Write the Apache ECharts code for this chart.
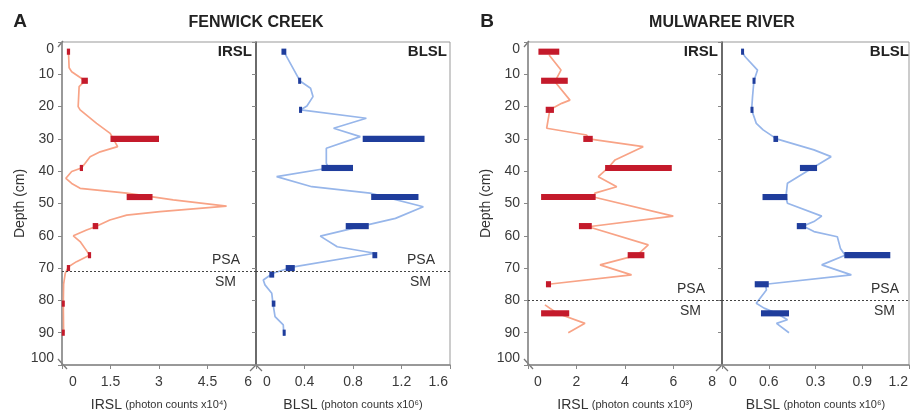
<!DOCTYPE html>
<html>
<head>
<meta charset="utf-8">
<script src="https://cdn.jsdelivr.net/npm/echarts@6/dist/echarts.min.js"></script>
<style>
  html, body { margin: 0; padding: 0; background: #fff; }
  #main { width: 911px; height: 417px; }
</style>
</head>
<body>
<div id="main"></div>
<script>
// Fenwick Creek profiles (depth in cm, signal values)
var fenIrslDepth = [3, 8, 9.2, 12, 13.8, 20, 21, 25.2, 28.3, 32.4, 34, 35.5, 37.6, 39, 40.1, 42.2, 43.8, 45.3, 46.8, 48.9, 50.8, 52.5, 53.6, 55.1, 57.2, 58.2, 60, 61.8, 64.9, 66, 68, 69.6, 71.6, 75, 81, 90];
var fenIrslValue = [0.2, 0.22, 0.3, 0.71, 0.53, 0.5, 0.56, 1.07, 1.49, 1.72, 1.18, 0.87, 0.71, 0.6, 0.3, 0.12, 0.3, 0.56, 2.0, 3.44, 5.09, 3.03, 2.0, 1.48, 1.03, 0.76, 0.35, 0.56, 0.78, 0.85, 0.45, 0.2, 0.1, 0.05, 0.04, 0.05];
var fenIrslBars = [[3, 0.15, 0.25], [12, 0.6, 0.8], [30, 1.5, 3.0], [39, 0.55, 0.65], [48, 2.0, 2.8], [57, 0.95, 1.12], [66, 0.8, 0.9], [70, 0.15, 0.25], [81, 0.0, 0.08], [90, 0.0, 0.08]];

var fenBlslDepth = [3, 11.2, 12, 14.3, 16.9, 19.8, 21, 23.6, 26.7, 29.3, 32.9, 37.6, 39, 41.7, 44.8, 46.8, 51, 54.6, 56.7, 60.1, 63.4, 65.4, 66, 69.6, 71.6, 73.7, 75.2, 77.8, 81, 85, 87.6, 91];
var fenBlslValue = [0.23, 0.35, 0.36, 0.45, 0.47, 0.42, 0.37, 0.91, 0.64, 0.86, 0.58, 0.58, 0.6, 0.17, 0.46, 0.94, 1.38, 1.15, 0.91, 0.53, 0.67, 0.98, 0.98, 0.31, 0.14, 0.06, 0.074, 0.13, 0.14, 0.157, 0.225, 0.23];
var fenBlslBars = [[3, 0.21, 0.25], [12, 0.35, 0.37], [21, 0.355, 0.38], [30, 0.88, 1.39], [39, 0.54, 0.8], [48, 0.95, 1.34], [57, 0.74, 0.93], [66, 0.96, 1.0], [70, 0.245, 0.32], [72, 0.11, 0.15], [81, 0.13, 0.16], [90, 0.225, 0.24]];

// Mulwaree River profiles ('-' breaks the line)
var mulIrslDepth = [4, 8.7, 12.3, 18, 19, 21, 26.7, 28.8, 30, 32.4, 36.5, 39, 41.7, 44.8, 46.8, 48, 53.9, 57.2, 62.8, 66, 69, 72.1, 75, 78, 81.4, 84, 87.1, 90];
var mulIrslValue = [0.87, 1.36, 1.11, 1.73, 1.39, 0.9, 0.77, 2.42, 2.5, 4.75, 3.59, 3.3, 2.9, 3.66, 2.76, 2.7, 5.99, 2.49, 4.96, 4.5, 2.97, 4.27, 0.84, '-', 0.7, 1.2, 2.35, 1.66];
var mulIrslBars = [[3, 0.43, 1.29], [12, 0.54, 1.64], [21, 0.73, 1.07], [30, 2.28, 2.67], [39, 3.18, 5.93], [48, 0.54, 2.79], [57, 2.1, 2.63], [66, 4.11, 4.8], [75, 0.74, 0.95], [84, 0.54, 1.7]];

var mulBlslDepth = [3, 4.5, 8.7, 12, 16.9, 21, 25.2, 27.2, 30, 33.4, 35.5, 39, 43.7, 48, 49.9, 53.9, 55.6, 57, 58.7, 60.3, 63.9, 66, 69, 72.1, 75, 76.8, 80.9, 82.4, 84, 86, 87.1, 90];
var mulBlslValue = [0.13, 0.147, 0.228, 0.205, 0.196, 0.19, 0.22, 0.264, 0.35, 0.59, 0.7, 0.58, 0.42, 0.41, 0.42, 0.64, 0.59, 0.52, 0.59, 0.74, 0.76, 0.79, 0.64, 0.83, 0.28, 0.285, 0.22, 0.27, 0.35, 0.42, 0.35, 0.43];
var mulBlslBars = [[3, 0.126, 0.138], [12, 0.196, 0.215], [21, 0.185, 0.2], [30, 0.33, 0.36], [39, 0.5, 0.61], [48, 0.26, 0.42], [57, 0.48, 0.54], [66, 0.785, 1.08], [75, 0.21, 0.3], [84, 0.25, 0.43]];

var boundaryDepth = [71, 80];
var mulBlslTickLabels = ['0', '0.6', '0.3', '0.9', '1.2'];

var font = 'Liberation Sans, Arial, sans-serif';
var lineRed = '#f8a386', barRed = '#c41a2b';
var lineBlue = '#97b6ea', barBlue = '#1f3d9c';

function pairs(depth, vals) {
    return depth.map(function (d, i) { return [vals[i], d]; });
}

function barItem(params, api) {
    var d = api.value(0);
    var p1 = api.coord([api.value(1), d]);
    var p2 = api.coord([api.value(2), d]);
    var h = api.size([0, 1.9])[1];
    var w = Math.max(p2[0] - p1[0], 3);
    var x = (p1[0] + p2[0]) / 2 - w / 2;
    return {
        type: 'rect',
        shape: { x: x, y: p1[1] - h / 2, width: w, height: h },
        style: { fill: api.visual('color') }
    };
}

function grid(left, width) {
    return { left: left, width: width, top: 42, height: 323, show: true, borderColor: '#999', borderWidth: 1 };
}

function yAxis(idx, labels) {
    return {
        type: 'value', gridIndex: idx, inverse: true, min: 0, max: 100, interval: 10,
        name: labels ? 'Depth (cm)' : '', nameLocation: 'middle', nameGap: 34,
        nameTextStyle: { fontFamily: font, fontSize: 14, color: '#333' },
        axisLine: { show: true, onZero: false, lineStyle: { color: labels ? '#888' : '#555', width: 1.5 } },
        axisTick: { show: true, length: 4, lineStyle: { color: '#888' } },
        axisLabel: { show: labels, fontFamily: font, fontSize: 14, color: '#3a3a3a', margin: 8,
            verticalAlignMinLabel: 'top', verticalAlignMaxLabel: 'bottom' },
        splitLine: { show: false }
    };
}

function xAxis(idx, max, interval, name, sup, padMin, padMax, texts) {
    var lbl = { fontFamily: font, fontSize: 14, color: '#3a3a3a' };
    return {
        type: 'value', gridIndex: idx, position: 'bottom', min: 0, max: max, interval: interval,
        name: '{b|' + name + '} {s|(photon counts x10' + sup + ')}',
        nameLocation: 'middle', nameGap: 33,
        nameTextStyle: { rich: {
            b: { fontFamily: font, fontSize: 14, color: '#333' },
            s: { fontFamily: font, fontSize: 11, color: '#333' }
        } },
        axisLine: { show: true, onZero: false, lineStyle: { color: '#888', width: 1.5 } },
        axisTick: { show: true, length: 4, lineStyle: { color: '#888' } },
        axisLabel: Object.assign({ margin: 10, alignMinLabel: 'left', alignMaxLabel: 'right',
            formatter: function (v) {
                var s = texts ? texts[Math.round(v / interval)] : String(v);
                if (v === 0) return '{mn|' + s + '}';
                if (Math.abs(v - max) < 1e-9) return '{mx|' + s + '}';
                return s;
            },
            rich: {
                mn: Object.assign({ padding: [0, 0, 0, padMin] }, lbl),
                mx: Object.assign({ padding: [0, padMax, 0, 0] }, lbl)
            } }, lbl),
        splitLine: { show: false }
    };
}

function boundary(depth, dist) {
    var lbl = { fontFamily: font, fontSize: 14, color: '#333' };
    return {
        silent: true, symbol: 'none',
        lineStyle: { type: [2, 2], color: '#444', width: 1 },
        data: [
            { yAxis: depth, label: Object.assign({ formatter: 'PSA', position: 'insideEndTop', distance: [dist, 4] }, lbl) },
            { yAxis: depth, label: Object.assign({ formatter: 'SM', position: 'insideEndBottom', distance: [dist + 4, 4] }, lbl) }
        ]
    };
}

function lineSeries(idx, depth, vals, color, bdepth, dist) {
    return {
        type: 'line', xAxisIndex: idx, yAxisIndex: idx, data: pairs(depth, vals),
        symbol: 'none', lineStyle: { color: color, width: 1.7 }, itemStyle: { color: color },
        connectNulls: false, z: 2,
        markLine: boundary(bdepth, dist)
    };
}

function barSeries(idx, bars, color) {
    return {
        type: 'custom', xAxisIndex: idx, yAxisIndex: idx, data: bars,
        encode: { x: [1, 2], y: 0 }, itemStyle: { color: color },
        renderItem: barItem, z: 3
    };
}

function txt(x, y, s, size, align) {
    return { type: 'text', x: x, y: y, style: { text: s, fontFamily: font, fontSize: size, fontWeight: 'bold',
        fill: '#222', align: align || 'center', verticalAlign: 'middle' } };
}

// small axis-break marks at the corners
function tick(x1, y1, x2, y2) {
    return { type: 'line', shape: { x1: x1, y1: y1, x2: x2, y2: y2 }, style: { stroke: '#777', lineWidth: 1.3 } };
}

var option = {
    animation: false,
    grid: [grid(62, 194), grid(256, 194), grid(528, 194), grid(722, 188)],
    xAxis: [
        xAxis(0, 6, 1.5, 'IRSL', '\u2074', 7, 4),
        xAxis(1, 1.6, 0.4, 'BLSL', '\u2076', 7, 2),
        xAxis(2, 8, 2, 'IRSL', '\u00b3', 6, 6),
        xAxis(3, 1.2, 0.3, 'BLSL', '\u2076', 7, 1, mulBlslTickLabels)
    ],
    yAxis: [yAxis(0, true), yAxis(1, false), yAxis(2, true), yAxis(3, false)],
    series: [
        lineSeries(0, fenIrslDepth, fenIrslValue, lineRed, boundaryDepth[0], 16),
        barSeries(0, fenIrslBars, barRed),
        lineSeries(1, fenBlslDepth, fenBlslValue, lineBlue, boundaryDepth[0], 15),
        barSeries(1, fenBlslBars, barBlue),
        lineSeries(2, mulIrslDepth, mulIrslValue, lineRed, boundaryDepth[1], 17),
        barSeries(2, mulIrslBars, barRed),
        lineSeries(3, mulBlslDepth, mulBlslValue, lineBlue, boundaryDepth[1], 10),
        barSeries(3, mulBlslBars, barBlue)
    ],
    graphic: [
        txt(20, 22, 'A', 19, 'center'),
        txt(256, 23, 'FENWICK CREEK', 16),
        txt(487, 22, 'B', 19, 'center'),
        txt(722, 23, 'MULWAREE RIVER', 16),
        txt(252, 52, 'IRSL', 15, 'right'),
        txt(447, 52, 'BLSL', 15, 'right'),
        txt(718, 52, 'IRSL', 15, 'right'),
        txt(909, 52, 'BLSL', 15, 'right'),
        tick(58, 359, 67, 369), tick(58, 47, 63, 41),
        tick(250, 371, 256, 365), tick(256, 365, 262, 371),
        tick(524, 359, 533, 369), tick(524, 47, 529, 41),
        tick(716, 371, 722, 365), tick(722, 365, 728, 371)
    ]
};

var chart = echarts.init(document.getElementById('main'));
chart.setOption(option);
</script>
</body>
</html>
